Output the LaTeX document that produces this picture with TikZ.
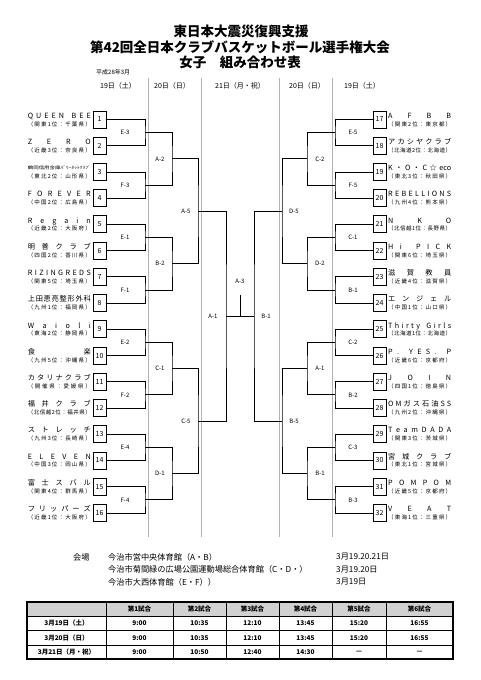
\documentclass[tikz,border=0pt]{standalone}
\usepackage{fontspec}
\setmainfont{Noto Sans CJK JP}
\usepackage{graphicx}
\makeatletter
\def\spr#1{\spr@a#1\@nil}
\def\spr@a#1#2\@nil{#1\ifx\relax#2\relax\else\hfill\spr@a#2\@nil\fi}
\makeatother
\tikzset{
  numbox/.style={draw=black, line width=0.9pt, minimum width=13pt, minimum height=17pt, inner sep=0pt, font=\fontsize{7}{7}\selectfont},
  nm/.style={inner sep=0pt, font=\fontsize{7.2}{7.2}\selectfont},
  sb/.style={inner sep=0pt, font=\fontsize{5.5}{5.5}\selectfont},
  lbl/.style={inner sep=0pt, font=\fontsize{6}{6}\selectfont},
  gline/.style={draw=black!30, line width=0.9pt},
  brk/.style={draw=black, line width=0.85pt},
  hdr/.style={inner sep=0pt, font=\fontsize{7}{7}\selectfont},
  ttl/.style={inner sep=0pt, font=\fontsize{13.5}{14}\selectfont\bfseries},
  ven/.style={inner sep=0pt, anchor=west, font=\fontsize{8.2}{8.2}\selectfont},
  tb/.style={inner sep=0pt, font=\fontsize{6.5}{6.5}\selectfont\bfseries}
}
\newcommand\lteam[3]{%
  \pgfmathsetmacro\tcy{119.5+(#1-1)*26.23}%
  \node[numbox] (b#1) at (99.5,\tcy) {#1};%
  \node[nm, anchor=base east] (n#1) at (91,\tcy-1.3) {\hbox to 63pt{#2}};%
  \node[sb, anchor=base east] (s#1) at (91,\tcy+6.5) {\hbox to 63pt{\spr{#3}}};%
}
\newcommand\rteam[3]{%
  \pgfmathsetmacro\tcy{119.5+(#1-17)*26.23}%
  \node[numbox] (b#1) at (379.5,\tcy) {#1};%
  \node[nm, anchor=base west] (n#1) at (388,\tcy-1.3) {\hbox to 63pt{#2}};%
  \node[sb, anchor=base west] (s#1) at (388,\tcy+6.5) {\hbox to 63pt{\spr{#3}}};%
}
\begin{document}
\begin{tikzpicture}[x=1pt,y=-1pt]
\useasboundingbox[fill=white] (0,0) rectangle (481,680);
% title
\node[ttl] (t1) at (241,31) {東日本大震災復興支援};
\node[ttl] (t2) at (240,47) {第42回全日本クラブバスケットボール選手権大会};
\node[ttl] (t3) at (240,62) {女子　組み合わせ表};
\node[inner sep=0pt, anchor=west, font=\fontsize{6}{6}\selectfont] (date) at (96,72) {平成28年3月};
% day columns
\draw[gline] (148,78) -- (148,537);
\draw[gline] (201,78) -- (201,537);
\draw[gline] (279,78) -- (279,537);
\draw[gline] (332,78) -- (332,537);
\node[hdr] (d1) at (118,86) {19日（土）};
\node[hdr] (d2) at (172,86) {20日（日）};
\node[hdr] (d3) at (240,86) {21日（月・祝）};
\node[hdr] (d4) at (307,86) {20日（日）};
\node[hdr] (d5) at (362,86) {19日（土）};
% teams left
\lteam{1}{\spr{QUEEN{\ }BEE}}{（関東1位：千葉県）}
\lteam{2}{\spr{ZERO}}{（近畿3位：奈良県）}
\lteam{3}{\raisebox{1.2pt}{\resizebox{63pt}{3.6pt}{鶴岡信用金庫ﾊﾞﾘｰﾈｯﾄｸﾗﾌﾞ}}}{（東北2位：山形県）}
\lteam{4}{\spr{FOREVER}}{（中国2位：広島県）}
\lteam{5}{\spr{Regain}}{（近畿2位：大阪府）}
\lteam{6}{\spr{明善クラブ}}{（四国2位：香川県）}
\lteam{7}{\spr{RIZINGREDS}}{（関東5位：埼玉県）}
\lteam{8}{\spr{上田恵亮整形外科}}{（九州1位：福岡県）}
\lteam{9}{\spr{Waioli}}{（東海2位：静岡県）}
\lteam{10}{\spr{食楽}}{（九州5位：沖縄県）}
\lteam{11}{\spr{カタリナクラブ}}{（開催県：愛媛県）}
\lteam{12}{\spr{福井クラブ}}{（北信越2位：福井県）}
\lteam{13}{\spr{ストレッチ}}{（九州3位：長崎県）}
\lteam{14}{\spr{ELEVEN}}{（中国3位：岡山県）}
\lteam{15}{\spr{富士スバル}}{（関東4位：群馬県）}
\lteam{16}{\spr{フリッパーズ}}{（近畿1位：大阪府）}
% teams right
\rteam{17}{\spr{AFBB}}{（関東2位：東京都）}
\rteam{18}{\spr{アカシヤクラブ}}{（北海道2位：北海道）}
\rteam{19}{K\hfill ・\hfill O\hfill ・\hfill C\hfill ☆\hfill eco}{（東北3位：秋田県）}
\rteam{20}{\spr{REBELLIONS}}{（九州4位：熊本県）}
\rteam{21}{\spr{NKO}}{（北信越1位：長野県）}
\rteam{22}{\spr{Hi{\ }PICK}}{（関東6位：埼玉県）}
\rteam{23}{\spr{滋賀教員}}{（近畿4位：滋賀県）}
\rteam{24}{\spr{エンジェル}}{（中国1位：山口県）}
\rteam{25}{\spr{Thirty{\ }Girls}}{（北海道1位：北海道）}
\rteam{26}{\spr{P.{\ }YES.{\ }P}}{（近畿6位：京都府）}
\rteam{27}{\spr{JOIN}}{（四国1位：徳島県）}
\rteam{28}{\spr{OMガス石油SS}}{（九州2位：沖縄県）}
\rteam{29}{\spr{TeamDADA}}{（関東3位：茨城県）}
\rteam{30}{\spr{宮城クラブ}}{（東北1位：宮城県）}
\rteam{31}{\spr{POMPOM}}{（近畿5位：京都府）}
\rteam{32}{\spr{VEAT}}{（東海1位：三重県）}
% round 1
\foreach \k in {1,...,8} {
  \pgfmathtruncatemacro\ka{2*\k-1}
  \pgfmathtruncatemacro\kb{2*\k}
  \pgfmathtruncatemacro\kc{2*\k+15}
  \pgfmathtruncatemacro\kd{2*\k+16}
  \pgfmathsetmacro\yy{119.5+(2*\k-2)*26.23+13.115}
  \coordinate (la\k) at (145,\yy);
  \coordinate (ra\k) at (335,\yy);
  \draw[brk] (b\ka.east) -| (la\k) |- (b\kb.east);
  \draw[brk] (b\kc.west) -| (ra\k) |- (b\kd.west);
}
% round 2
\foreach \k in {1,...,4} {
  \pgfmathtruncatemacro\ka{2*\k-1}
  \pgfmathtruncatemacro\kb{2*\k}
  \pgfmathsetmacro\yy{119.5+(4*\k-4)*26.23+1.5*26.23}
  \coordinate (lb\k) at (172,\yy);
  \coordinate (rb\k) at (307,\yy);
  \draw[brk] (la\ka) -| (lb\k) |- (la\kb);
  \draw[brk] (ra\ka) -| (rb\k) |- (ra\kb);
}
% round 3
\foreach \k in {1,2} {
  \pgfmathtruncatemacro\ka{2*\k-1}
  \pgfmathtruncatemacro\kb{2*\k}
  \pgfmathsetmacro\yy{119.5+(8*\k-8)*26.23+3.5*26.23}
  \coordinate (lc\k) at (198,\yy);
  \coordinate (rc\k) at (282,\yy);
  \draw[brk] (lb\ka) -| (lc\k) |- (lb\kb);
  \draw[brk] (rb\ka) -| (rc\k) |- (rb\kb);
}
% round 4 and final
\coordinate (ld) at (226,316.2);
\coordinate (rd) at (254,316.2);
\draw[brk] (lc1) -| (ld) |- (lc2);
\draw[brk] (rc1) -| (rd) |- (rc2);
\coordinate (fin) at (240,316.2);
\coordinate (a3) at (240,295);
\draw[brk] (ld) -- (rd);
\draw[brk] (fin) -- (a3);
% match labels
\foreach \k/\t in {1/E-3,2/F-3,3/E-1,4/F-1,5/E-2,6/F-2,7/E-4,8/F-4}
  \node[lbl] (lal\k) at ([xshift=-20pt]la\k) {\t};
\foreach \k/\t in {1/E-5,2/F-5,3/C-1,4/B-1,5/C-2,6/B-2,7/C-3,8/B-3}
  \node[lbl] (ral\k) at ([xshift=18pt]ra\k) {\t};
\foreach \k/\t in {1/A-2,2/B-2,3/C-1,4/D-1}
  \node[lbl] (lbl\k) at ([xshift=-12pt]lb\k) {\t};
\foreach \k/\t in {1/C-2,2/D-2,3/A-1,4/B-1}
  \node[lbl] (rbl\k) at ([xshift=13pt]rb\k) {\t};
\node[lbl] (lcl1) at ([xshift=-12pt]lc1) {A-5};
\node[lbl] (lcl2) at ([xshift=-12pt]lc2) {C-5};
\node[lbl] (rcl1) at ([xshift=12pt]rc1) {D-5};
\node[lbl] (rcl2) at ([xshift=12pt]rc2) {B-5};
\node[lbl] (ldl) at ([xshift=-13pt]ld) {A-1};
\node[lbl] (rdl) at ([xshift=12pt]rd) {B-1};
\node[lbl] (a3l) at (240,281) {A-3};
% venues
\node[ven] (v0) at (73,557) {会場};
\node[ven] (v1) at (108,557) {今治市営中央体育館（A・B）};
\node[ven] (v2) at (108,569.5) {今治市菊間緑の広場公園運動場総合体育館（C・D・）};
\node[ven] (v3) at (108,582) {今治市大西体育館（E・F））};
\node[ven] (w1) at (336,557) {3月19.20.21日};
\node[ven] (w2) at (336,569.5) {3月19.20日};
\node[ven] (w3) at (336,582) {3月19日};
% table
\fill[black!18] (27,602) rectangle (453,616);
\foreach \yy in {616,630.5,645} \draw[line width=0.6pt] (27,\yy) -- (453,\yy);
\foreach \xx in {106,173,226,279,332,386} \draw[line width=0.6pt] (\xx,602) -- (\xx,659);
\draw[line width=1.4pt] (27,602) rectangle (453,659);
\foreach \xx/\t [count=\c] in {139.5/第1試合,199.5/第2試合,252.5/第3試合,305.5/第4試合,359/第5試合,419.5/第6試合}
  \node[tb] (h\c) at (\xx,609) {\t};
\node[tb] (r1) at (66.5,623.2) {3月19日（土）};
\node[tb] (r2) at (66.5,637.7) {3月20日（日）};
\node[tb] (r3) at (66.5,652) {3月21日（月・祝）};
\foreach \xx/\t [count=\c] in {139.5/9:00,199.5/10:35,252.5/12:10,305.5/13:45,359/15:20,419.5/16:55}
  \node[tb] (c1\c) at (\xx,623.2) {\t};
\foreach \xx/\t [count=\c] in {139.5/9:00,199.5/10:35,252.5/12:10,305.5/13:45,359/15:20,419.5/16:55}
  \node[tb] (c2\c) at (\xx,637.7) {\t};
\foreach \xx/\t [count=\c] in {139.5/9:00,199.5/10:50,252.5/12:40,305.5/14:30,359/---,419.5/---}
  \node[tb] (c3\c) at (\xx,652) {\t};
\end{tikzpicture}
\end{document}
